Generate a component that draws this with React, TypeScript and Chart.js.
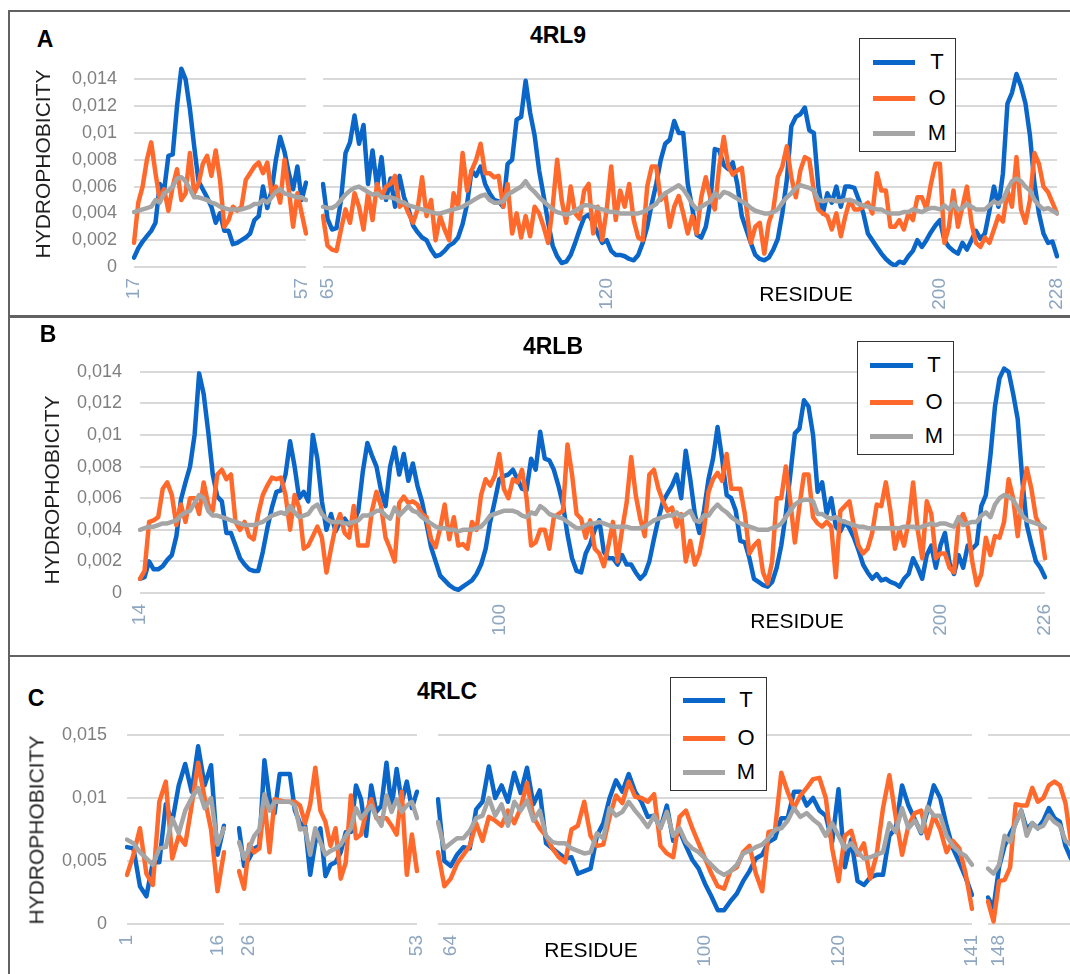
import React, { useEffect, useRef } from 'react';
import { Chart, registerables } from 'chart.js';

Chart.register(...registerables);

// All series values are in units of 1e-4 (hydrophobicity)
const UNIT = 0.0001;

const BLUE = '#0a66c8';
const ORANGE = '#ff6a2c';
const GRAY = '#a5a5a5';
const GRID = '#d9d9d9';
const YTICK = '#7f7f7f';
const XTICK = '#8ea6c0';
const FONT = "'Liberation Sans', Arial, sans-serif";
const LINE_W = 4.5;

const Y_MAX = 0.015;
const Y_TICKS_AB = [0, 0.002, 0.004, 0.006, 0.008, 0.01, 0.012, 0.014];
const Y_TICKS_C = [0, 0.005, 0.01, 0.015];

// ---------- Panel A (4RL9) ----------
const A1_TICKS: [number, string][] = [[0, '17'], [39, '57']];
const A1_T = [7, 14, 19, 23, 27, 33, 62, 57, 83, 84, 120, 148, 140, 118, 90, 64, 58, 52, 45, 33, 40, 27, 27, 17, 18, 20, 22, 25, 35, 38, 60, 44, 57, 80, 97, 86, 70, 58, 75, 50, 63];
const A1_O = [18, 48, 60, 80, 93, 70, 50, 58, 42, 60, 73, 50, 55, 85, 55, 62, 77, 83, 68, 87, 65, 30, 35, 45, 42, 45, 65, 70, 75, 78, 70, 78, 55, 60, 48, 80, 58, 30, 55, 40, 25];
const A1_M = [41, 42, 43, 44, 45, 50, 48, 55, 57, 60, 66, 67, 64, 58, 52, 52, 51, 50, 48, 47, 45, 44, 43, 43, 43, 43, 44, 45, 47, 47, 50, 48, 52, 56, 58, 55, 54, 53, 52, 52, 50];

const A2_TICKS: [number, string][] = [[1, '65'], [63, '120'], [137, '200'], [163, '228']];
const A2_T = [
  62, 36, 28, 29, 50, 85, 93, 113, 92, 106,
  62, 87, 60, 82, 50, 66, 45, 68, 52, 43,
  31, 26, 22, 20, 13, 8, 9, 12, 16, 18,
  22, 32, 47, 72, 68, 75, 62, 55, 50, 49,
  45, 77, 80, 110, 112, 139, 115, 98, 72, 53,
  33, 16, 8, 3, 4, 9, 18, 28, 37, 39,
  33, 25, 18, 20, 12, 9, 9, 8, 6, 5,
  9, 18, 30, 47, 62, 80, 92, 95, 109, 100,
  100, 62, 44, 24, 22, 30, 48, 88, 87, 76,
  73, 78, 62, 38, 28, 18, 9, 6, 5, 7,
  13, 21, 40, 65, 105, 112, 114, 119, 102, 100,
  60, 40, 55, 48, 60, 45, 60, 60, 59, 50,
  40, 25, 20, 15, 10, 6, 3, 1, 4, 3,
  8, 12, 20, 15, 20, 26, 31, 35, 20, 15,
  12, 10, 18, 13, 20, 27, 21, 25, 42, 60,
  45, 70, 122, 130, 144, 135, 122, 98, 62, 40,
  25, 18, 19, 8,
];
const A2_O = [
  38, 16, 13, 12, 28, 43, 33, 55, 45, 28,
  55, 35, 62, 52, 60, 62, 68, 45, 48, 40,
  33, 43, 67, 38, 50, 20, 38, 28, 20, 55,
  45, 85, 57, 72, 80, 92, 70, 70, 67, 68,
  45, 62, 25, 40, 22, 38, 23, 45, 40, 30,
  18, 45, 80, 50, 33, 60, 40, 36, 57, 62,
  25, 45, 20, 43, 75, 35, 57, 45, 62, 35,
  22, 20, 60, 75, 75, 50, 55, 30, 45, 53,
  40, 25, 38, 25, 52, 67, 52, 43, 75, 97,
  75, 69, 72, 74, 45, 18, 30, 33, 10, 33,
  43, 67, 75, 90, 67, 52, 72, 82, 80, 57,
  43, 40, 38, 28, 40, 23, 38, 50, 43, 43,
  45, 48, 40, 70, 57, 57, 30, 30, 35, 28,
  40, 35, 52, 52, 43, 62, 77, 77, 18, 30,
  57, 30, 45, 60, 33, 18, 15, 22, 18, 28,
  38, 34, 57, 45, 82, 43, 33, 50, 85, 77,
  60, 56, 48, 40,
];
const A2_M = [
  45, 44, 44, 46, 50, 54, 57, 59, 60, 58,
  56, 54, 55, 52, 52, 52, 51, 49, 48, 46,
  45, 44, 43, 42, 41, 40, 40, 41, 42, 43,
  44, 45, 47, 49, 51, 53, 54, 50, 48, 48,
  49, 54, 56, 58, 60, 64, 59, 56, 52, 49,
  46, 43, 41, 40, 39, 40, 42, 44, 46, 46,
  45, 44, 43, 42, 41, 41, 40, 40, 40, 40,
  40, 41, 43, 45, 47, 52, 55, 57, 59, 61,
  58, 53, 47, 43, 45, 47, 49, 55, 52, 56,
  55, 53, 51, 49, 47, 44, 42, 41, 40, 40,
  41, 43, 48, 52, 55, 59, 61, 60, 59, 57,
  50, 49, 50, 50, 49, 49, 50, 50, 49, 47,
  46, 45, 44, 43, 43, 41, 40, 40, 40, 41,
  41, 43, 42, 41, 43, 44, 44, 43, 46, 43,
  48, 43, 44, 47, 45, 43, 43, 43, 46, 49,
  47, 50, 58, 64, 66, 64, 60, 57, 50, 46,
  43, 44, 42, 40,
];

// ---------- Panel B (4RLB) ----------
const B_TICKS: [number, string][] = [[0, '14'], [79, '100'], [176, '200'], [199, '226']];
const B_T = [
  9, 10, 20, 15, 15, 17, 21, 24, 36, 59,
  70, 80, 100, 139, 126, 102, 75, 61, 58, 38,
  38, 30, 22, 18, 15, 14, 14, 26, 41, 54,
  64, 65, 75, 96, 80, 60, 64, 58, 100, 85,
  58, 40, 50, 39, 45, 47, 43, 45, 52, 77,
  95, 87, 80, 65, 55, 80, 92, 75, 88, 71,
  82, 68, 58, 44, 29, 20, 11, 8, 5, 3,
  2, 4, 6, 8, 12, 18, 28, 45, 58, 72,
  74, 75, 78, 72, 66, 65, 85, 78, 102, 85,
  84, 78, 68, 56, 37, 22, 14, 13, 25, 31,
  40, 46, 26, 22, 22, 18, 24, 18, 18, 13,
  9, 12, 20, 34, 47, 58, 63, 68, 75, 60,
  90, 72, 50, 38, 52, 72, 85, 105, 85, 62,
  60, 52, 33, 32, 22, 9, 7, 5, 4, 7,
  16, 30, 50, 75, 101, 104, 122, 118, 100, 64,
  70, 50, 60, 42, 39, 45, 41, 35, 27, 18,
  13, 9, 12, 8, 9, 7, 6, 4, 9, 12,
  22, 16, 9, 24, 30, 16, 30, 38, 19, 12,
  24, 16, 30, 28, 31, 55, 62, 87, 118, 136,
  142, 140, 126, 110, 72, 43, 31, 20, 16, 10,
];
const B_O = [
  9, 14, 45, 46, 48, 66, 70, 62, 43, 56,
  45, 60, 60, 50, 70, 56, 52, 75, 78, 72,
  75, 45, 40, 45, 36, 34, 50, 62, 68, 73,
  72, 73, 62, 40, 62, 54, 28, 30, 36, 42,
  35, 13, 28, 42, 50, 38, 35, 55, 30, 30,
  30, 52, 64, 55, 35, 28, 20, 57, 61, 57,
  58, 56, 50, 48, 34, 29, 41, 56, 34, 48,
  30, 31, 28, 45, 40, 62, 72, 68, 74, 88,
  66, 60, 72, 70, 78, 60, 30, 32, 40, 40,
  28, 48, 50, 52, 94, 75, 50, 47, 35, 46,
  28, 25, 17, 30, 45, 20, 40, 57, 86, 62,
  47, 36, 75, 78, 66, 58, 52, 54, 42, 50,
  20, 33, 18, 25, 40, 64, 72, 76, 71, 88,
  66, 66, 66, 50, 25, 30, 33, 13, 6, 20,
  60, 60, 80, 58, 32, 55, 75, 75, 48, 44,
  42, 45, 42, 10, 52, 55, 58, 42, 30, 25,
  28, 38, 56, 55, 70, 52, 28, 40, 30, 45,
  70, 40, 22, 58, 50, 22, 25, 25, 16, 13,
  45, 50, 42, 20, 5, 12, 35, 24, 36, 35,
  45, 72, 60, 36, 64, 79, 66, 48, 42, 22,
];
const B_M = [
  40, 41, 42, 42, 43, 44, 44, 45, 46, 49,
  51, 52, 57, 62, 60, 52, 49, 49, 48, 47,
  46, 45, 44, 43, 43, 43, 44, 45, 47, 49,
  50, 51, 50, 55, 51, 48, 49, 50, 54, 56,
  50, 47, 45, 45, 45, 44, 44, 45, 46, 49,
  49, 50, 52, 52, 49, 47, 54, 49, 52, 55,
  52, 51, 48, 46, 44, 42, 41, 41, 40, 40,
  39, 40, 40, 40, 41, 42, 45, 49, 50, 51,
  52, 52, 52, 51, 49, 48, 51, 50, 55, 53,
  50, 49, 48, 47, 45, 43, 41, 41, 43, 44,
  44, 45, 44, 43, 42, 42, 42, 42, 41, 41,
  41, 42, 44, 46, 47, 48, 49, 49, 51, 48,
  50, 52, 46, 45, 49, 49, 53, 56, 53, 51,
  48, 46, 44, 43, 42, 41, 40, 40, 40, 41,
  42, 44, 48, 52, 56, 58, 59, 59, 58, 50,
  50, 48, 47, 48, 46, 45, 44, 43, 42, 42,
  41, 41, 41, 41, 41, 41, 41, 41, 42, 42,
  42, 41, 42, 43, 44, 43, 44, 44, 43, 42,
  48, 43, 44, 45, 45, 49, 51, 48, 56, 60,
  62, 61, 59, 54, 49, 46, 45, 44, 43, 41,
];

// ---------- Panel C (4RLC) ----------
const C1_TICKS: [number, string][] = [[0, '1'], [14, '16']];
const C1_T = [61, 60, 30, 22, 49, 49, 95, 81, 110, 127, 105, 141, 110, 126, 55, 78];
const C1_O = [39, 55, 76, 40, 31, 97, 113, 52, 70, 63, 94, 128, 100, 75, 26, 57];
const C1_M = [67, 64, 57, 52, 47, 60, 61, 84, 72, 90, 100, 108, 92, 100, 63, 76];

const C2_TICKS: [number, string][] = [[2, '26'], [35, '53']];
const C2_T = [76, 46, 52, 60, 62, 130, 99, 88, 119, 119, 119, 90, 80, 78, 39, 65, 76, 38, 47, 49, 57, 73, 73, 110, 99, 70, 110, 89, 94, 128, 92, 123, 97, 113, 92, 105];
const C2_O = [42, 28, 63, 57, 60, 97, 57, 99, 98, 97, 97, 97, 94, 80, 95, 124, 90, 81, 62, 76, 36, 49, 102, 68, 71, 89, 99, 84, 84, 84, 78, 71, 105, 39, 71, 42];
const C2_M = [65, 52, 60, 70, 75, 103, 90, 97, 97, 97, 97, 94, 75, 76, 55, 76, 65, 55, 58, 60, 63, 70, 76, 92, 84, 89, 94, 85, 78, 102, 89, 99, 89, 94, 97, 84];

const C3_TICKS: [number, string][] = [[2, '64'], [42, '100'], [63, '120'], [84, '141']];
const C3_T = [
  99, 50, 46, 55, 61, 60, 91, 97, 125, 100,
  110, 97, 120, 104, 124, 95, 106, 64, 60, 56,
  52, 53, 40, 42, 44, 70, 80, 100, 114, 105,
  119, 105, 97, 85, 86, 76, 94, 66, 74, 62,
  51, 44, 32, 22, 11, 11, 18, 24, 34, 42,
  52, 55, 65, 68, 84, 84, 105, 105, 94, 100,
  90, 86, 65, 107, 45, 67, 34, 31, 37, 39,
  39, 70, 76, 110, 94, 83, 72, 90, 110, 100,
  78, 60, 49, 37, 23,
];
const C3_O = [
  57, 30, 36, 48, 55, 62, 80, 66, 85, 82,
  78, 90, 80, 92, 112, 85, 76, 70, 60, 53,
  49, 75, 78, 97, 70, 62, 63, 85, 102, 96,
  113, 101, 100, 97, 103, 62, 56, 53, 85, 90,
  76, 64, 52, 40, 30, 28, 42, 45, 57, 62,
  40, 26, 73, 74, 120, 105, 92, 102, 108, 115,
  116, 100, 60, 34, 70, 74, 55, 64, 36, 55,
  92, 118, 85, 55, 78, 88, 90, 68, 86, 75,
  57, 66, 60, 40, 12,
];
const C3_M = [
  81, 60, 64, 68, 68, 74, 84, 86, 100, 86,
  95, 78, 97, 90, 98, 82, 90, 70, 65, 64,
  64, 60, 58, 56, 57, 72, 68, 92, 86, 89,
  97, 90, 84, 77, 86, 76, 89, 70, 76, 65,
  60, 57, 52, 47, 42, 39, 42, 47, 56, 58,
  61, 63, 68, 75, 76, 82, 92, 85, 88, 83,
  79, 70, 80, 70, 60, 64, 57, 52, 53, 55,
  57, 80, 73, 92, 76, 82, 73, 93, 86, 86,
  70, 62, 57, 54, 47,
];

const C4_TICKS: [number, string][] = [[2, '148']];
const C4_T = [21, 13, 45, 62, 72, 80, 90, 75, 80, 76, 82, 92, 84, 81, 62, 52];
const C4_O = [18, 2, 34, 35, 45, 95, 94, 94, 108, 97, 100, 110, 113, 110, 96, 65];
const C4_M = [44, 40, 47, 70, 65, 80, 90, 70, 80, 76, 78, 86, 81, 78, 66, 63];

type Seg = {
  ticks: [number, string][];
  T: number[];
  O: number[];
  M: number[];
  left: number;
  right: number;
  top: number;
  bottom: number;
  yTicks: number[];
  showY: boolean;
  yPad: number;
};

const SEGMENTS: Seg[] = [
  { ticks: A1_TICKS, T: A1_T, O: A1_O, M: A1_M, left: 134, right: 306, top: 66, bottom: 267, yTicks: Y_TICKS_AB, showY: true, yPad: 17 },
  { ticks: A2_TICKS, T: A2_T, O: A2_O, M: A2_M, left: 323, right: 1057, top: 66, bottom: 267, yTicks: Y_TICKS_AB, showY: false, yPad: 17 },
  { ticks: B_TICKS, T: B_T, O: B_O, M: B_M, left: 140, right: 1045, top: 356, bottom: 593, yTicks: Y_TICKS_AB, showY: true, yPad: 18 },
  { ticks: C1_TICKS, T: C1_T, O: C1_O, M: C1_M, left: 127, right: 224, top: 735, bottom: 924, yTicks: Y_TICKS_C, showY: true, yPad: 20 },
  { ticks: C2_TICKS, T: C2_T, O: C2_O, M: C2_M, left: 239, right: 417, top: 735, bottom: 924, yTicks: Y_TICKS_C, showY: false, yPad: 20 },
  { ticks: C3_TICKS, T: C3_T, O: C3_O, M: C3_M, left: 438, right: 972, top: 735, bottom: 924, yTicks: Y_TICKS_C, showY: false, yPad: 20 },
  { ticks: C4_TICKS, T: C4_T, O: C4_O, M: C4_M, left: 988, right: 1071, top: 735, bottom: 924, yTicks: Y_TICKS_C, showY: false, yPad: 20 },
];

const PAD_T = 12;
const X_H = 58;
const PAD_R = 14;

function SegChart({ seg }: { seg: Seg }) {
  const ref = useRef<HTMLCanvasElement>(null);
  const yW = seg.showY ? seg.left - 40 : 16;
  const cw = yW + (seg.right - seg.left) + PAD_R;
  const ch = PAD_T + (seg.bottom - seg.top) + X_H;

  useEffect(() => {
    if (!ref.current) return;
    const labels = seg.T.map((_, i) => {
      const f = seg.ticks.find((t) => t[0] === i);
      return f ? f[1] : '';
    });
    const mk = (label: string, data: number[], color: string, order: number) => ({
      label,
      data: data.map((v) => v * UNIT),
      borderColor: color,
      backgroundColor: color,
      borderWidth: LINE_W,
      pointRadius: 0,
      pointHoverRadius: 0,
      tension: 0,
      fill: false,
      order,
      borderJoinStyle: 'round' as const,
      borderCapStyle: 'round' as const,
    });
    const chart = new Chart(ref.current, {
      type: 'line',
      data: {
        labels,
        datasets: [mk('T', seg.T, BLUE, 3), mk('O', seg.O, ORANGE, 2), mk('M', seg.M, GRAY, 1)],
      },
      options: {
        responsive: false,
        animation: false,
        devicePixelRatio: 1,
        events: [],
        layout: { padding: { top: PAD_T, right: PAD_R, left: 0, bottom: 0 } },
        plugins: { legend: { display: false }, tooltip: { enabled: false }, title: { display: false } },
        scales: {
          x: {
            type: 'category',
            offset: false,
            grid: { display: false, drawTicks: false },
            border: { display: false },
            ticks: {
              autoSkip: false,
              maxRotation: 90,
              minRotation: 90,
              padding: 11,
              color: XTICK,
              font: { family: FONT, size: 19 },
            },
            afterFit: (s: any) => {
              s.height = X_H;
              s.paddingLeft = 0;
              s.paddingRight = 0;
            },
          },
          y: {
            type: 'linear',
            min: 0,
            max: Y_MAX,
            grid: { color: GRID, lineWidth: 2, drawTicks: false },
            border: { display: false },
            ticks: {
              display: seg.showY,
              padding: seg.yPad,
              color: YTICK,
              font: { family: FONT, size: 18 },
              callback: (v: any) => String(v).replace('.', ','),
            },
            afterBuildTicks: (s: any) => {
              s.ticks = seg.yTicks.map((v) => ({ value: v }));
            },
            afterFit: (s: any) => {
              s.width = yW;
              s.paddingTop = 0;
              s.paddingBottom = 0;
            },
          },
        },
      } as any,
    });
    return () => chart.destroy();
  }, []);

  return (
    <canvas
      ref={ref}
      width={cw}
      height={ch}
      style={{ position: 'absolute', left: seg.left - yW, top: seg.top - PAD_T, width: cw, height: ch }}
    />
  );
}

function Txt(props: { x: number; y: number; size: number; bold?: boolean; rotate?: boolean; color?: string; children: React.ReactNode }) {
  return (
    <div
      style={{
        position: 'absolute',
        left: props.x,
        top: props.y,
        transform: `translate(-50%, -50%)${props.rotate ? ' rotate(-90deg)' : ''}`,
        fontFamily: FONT,
        fontSize: props.size,
        fontWeight: props.bold ? 'bold' : 'normal',
        color: props.color || '#000',
        lineHeight: 1,
        whiteSpace: 'nowrap',
      }}
    >
      {props.children}
    </div>
  );
}

const LEGEND_ITEMS: [string, string][] = [['T', BLUE], ['O', ORANGE], ['M', GRAY]];

function Legend(props: { left: number; top: number; rows: number[]; swL: number; swR: number; textX: number }) {
  return (
    <>
      <div
        style={{
          position: 'absolute',
          left: props.left,
          top: props.top,
          width: 97,
          height: 114,
          boxSizing: 'border-box',
          border: '1px solid #333',
          background: '#fff',
        }}
      />
      {LEGEND_ITEMS.map(([name, color], i) => (
        <React.Fragment key={name}>
          <div
            style={{
              position: 'absolute',
              left: props.swL,
              top: props.rows[i] - 2,
              width: props.swR - props.swL,
              height: 4.5,
              background: color,
            }}
          />
          <Txt x={props.textX} y={props.rows[i]} size={22}>{name}</Txt>
        </React.Fragment>
      ))}
    </>
  );
}

const panelBox = (top: number, height: number): React.CSSProperties => ({
  position: 'absolute',
  left: 8,
  top,
  width: 1100,
  height,
  boxSizing: 'border-box',
  border: '2px solid #626262',
});

export default function App() {
  return (
    <div style={{ position: 'fixed', left: 0, top: 0, width: 1070, height: 974, overflow: 'hidden', background: '#fff' }}>
      <div style={panelBox(10, 307)} />
      <div style={panelBox(316, 341)} />
      <div style={panelBox(655, 400)} />

      {SEGMENTS.map((s, i) => (
        <SegChart key={i} seg={s} />
      ))}

      <Txt x={45} y={39} size={23} bold>A</Txt>
      <Txt x={48} y={334} size={23} bold>B</Txt>
      <Txt x={36} y={698} size={23} bold>C</Txt>

      <Txt x={558} y={35} size={23} bold>4RL9</Txt>
      <Txt x={553} y={346} size={23} bold>4RLB</Txt>
      <Txt x={447} y={691} size={23} bold>4RLC</Txt>

      <Txt x={42} y={164} size={21} rotate color="#1f1f1f">HYDROPHOBICITY</Txt>
      <Txt x={51} y={490} size={21} rotate color="#1f1f1f">HYDROPHOBICITY</Txt>
      <Txt x={36} y={830} size={21} rotate color="#1f1f1f">HYDROPHOBICITY</Txt>

      <Txt x={806} y={293} size={21}>RESIDUE</Txt>
      <Txt x={797} y={620} size={21}>RESIDUE</Txt>
      <Txt x={591} y={949} size={21}>RESIDUE</Txt>

      <Legend left={859} top={38} rows={[62, 98, 133]} swL={873} swR={915} textX={937} />
      <Legend left={857} top={341} rows={[365, 402, 436]} swL={870} swR={913} textX={934} />
      <Legend left={670} top={677} rows={[700, 738, 772]} swL={683} swR={725} textX={746} />
    </div>
  );
}
